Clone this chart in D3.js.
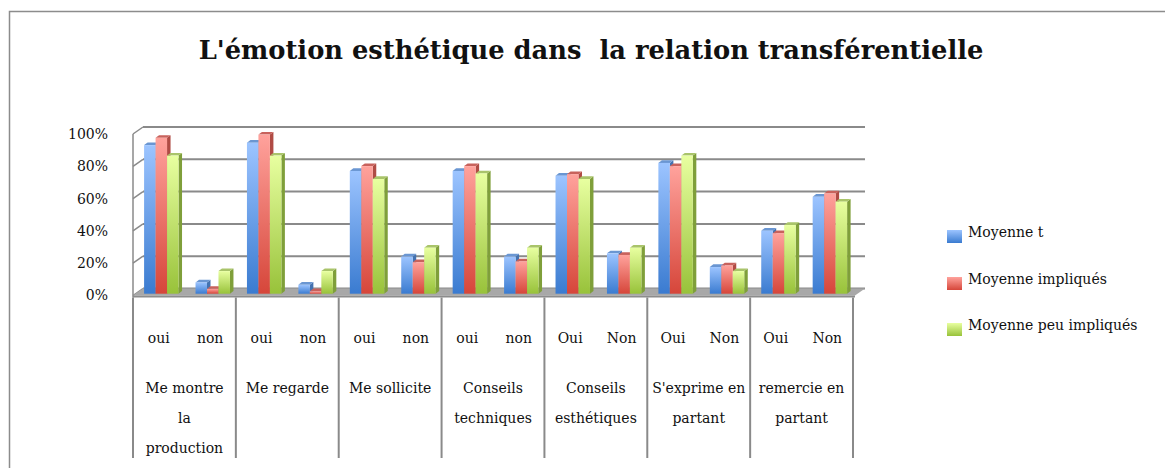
<!DOCTYPE html>
<html>
<head>
<meta charset="utf-8">
<script src="https://cdnjs.cloudflare.com/ajax/libs/d3/7.8.5/d3.min.js"></script>
<style>
  body { margin: 0; background: #fff; }
  text { font-family: "DejaVu Serif", "Liberation Serif", serif; fill: #111; }
</style>
</head>
<body>
<svg id="chart"></svg>
<script>
// data
var groups = [["Me montre", "la", "production"], ["Me regarde"], ["Me sollicite"],
  ["Conseils", "techniques"], ["Conseils", "esthétiques"], ["S'exprime en", "partant"], ["remercie en", "partant"]];
var answers = [["oui", "non"], ["oui", "non"], ["oui", "non"], ["oui", "non"],
  ["Oui", "Non"], ["Oui", "Non"], ["Oui", "Non"]];
var seriesNames = ["Moyenne t", "Moyenne impliqués", "Moyenne peu impliqués"];
var moyenneT = [0.92, 0.07, 0.935, 0.055, 0.76, 0.23, 0.76, 0.23, 0.73, 0.25, 0.81, 0.165, 0.39, 0.60];
var moyenneImpliques = [0.965, 0.03, 0.985, 0.015, 0.79, 0.195, 0.79, 0.20, 0.74, 0.24, 0.79, 0.175, 0.375, 0.62];
var moyennePeu = [0.855, 0.14, 0.855, 0.14, 0.71, 0.285, 0.745, 0.285, 0.71, 0.285, 0.855, 0.14, 0.425, 0.57];
var yTicks = [0, 0.2, 0.4, 0.6, 0.8, 1];

var width = 1165, height = 468;
var svg = d3.select("#chart").attr("width", width).attr("height", height);

var colors = [
  {top: "#9cc4ff", bottom: "#3a7bd0", cap: "#6a96d2", side: "#4472b0"},
  {top: "#ffa29c", bottom: "#d6463a", cap: "#c8625c", side: "#b04b44"},
  {top: "#e8ffa0", bottom: "#98c23a", cap: "#a9c46a", side: "#7f9f3a"}
];
var defs = svg.append("defs");
colors.forEach(function(c, i) {
  var g = defs.append("linearGradient").attr("id", "grad" + i)
    .attr("x1", 0).attr("y1", 0).attr("x2", 0).attr("y2", 1);
  g.append("stop").attr("offset", "0%").attr("stop-color", c.top);
  g.append("stop").attr("offset", "100%").attr("stop-color", c.bottom);
});

// outer frame
svg.append("path").attr("d", "M9.5," + height + "V11.5H" + width)
  .attr("fill", "none").attr("stroke", "#8c8c8c").attr("stroke-width", 1.5);

// title, fitted to the reference width
var title = svg.append("text").attr("x", 591).attr("y", 59)
  .attr("text-anchor", "middle").style("font-weight", "bold").style("font-size", "26px")
  .style("white-space", "pre")
  .text("L'émotion esthétique dans  la relation transférentielle");
var tl = title.node().getComputedTextLength();
title.style("font-size", (26 * 785 / tl) + "px");

// 3D geometry: front plane and depth offset
var x0 = 133, x1 = 853;
var depthX = 10, depthY = -7;
var yFront = d3.scaleLinear().domain([0, 1]).range([295.5, 134]);

var xGroup = d3.scaleBand().domain(d3.range(groups.length)).range([x0, x1]);
var xSub = d3.scaleBand().domain([0, 1]).range([0, xGroup.bandwidth()]);
var xSeries = d3.scaleBand().domain([0, 1, 2]).range([0, xSub.bandwidth()])
  .paddingInner(0).paddingOuter(0.74);

var grid = svg.append("g");
// back wall gridlines
yTicks.forEach(function(t) {
  var yb = yFront(t) + depthY;
  grid.append("line").attr("x1", x0 + depthX).attr("x2", x1 + depthX + 2)
    .attr("y1", yb).attr("y2", yb).attr("stroke", "#8a8a8a").attr("stroke-width", 2);
  // left wall diagonals
  grid.append("line").attr("x1", x0).attr("y1", yFront(t))
    .attr("x2", x0 + depthX).attr("y2", yb).attr("stroke", "#8a8a8a").attr("stroke-width", 1.5);
});
grid.append("line").attr("x1", x0).attr("x2", x0).attr("y1", yFront(1)).attr("y2", yFront(0) + 2)
  .attr("stroke", "#8a8a8a").attr("stroke-width", 1.5);

// floor
var fy = yFront(0);
grid.append("path")
  .attr("d", "M" + x0 + "," + fy + "L" + (x0 + depthX) + "," + (fy + depthY) +
    "L" + (x1 + depthX + 2) + "," + (fy + depthY) + "L" + (x1 + 2) + "," + fy + "Z")
  .attr("fill", "#a8a8a8");
grid.append("rect").attr("x", x0).attr("y", fy).attr("width", x1 - x0 + 2).attr("height", 2)
  .attr("fill", "#8c8c8c");

// y axis labels
var yAxis = d3.axisLeft(yFront).tickValues(yTicks).tickFormat(d3.format(".0%")).tickSize(0).tickPadding(0);
var ay = svg.append("g").attr("transform", "translate(108,0)").call(yAxis);
ay.select(".domain").remove();
ay.selectAll("text").style("font-family", "DejaVu Serif, serif").style("font-size", "14px").attr("fill", "#111");

// bars
var series = [moyenneT, moyenneImpliques, moyennePeu];
var barDx = 2.6, barDy = -1.8, capDx = 3.5, capDy = -2.7;
var bars = svg.append("g");
d3.range(groups.length * 2).forEach(function(k) {
  var gi = Math.floor(k / 2), si = k % 2;
  series.forEach(function(vals, s) {
    var v = vals[k];
    var bx = xGroup(gi) + xSub(si) + xSeries(s) + barDx;
    var bw = xSeries.bandwidth();
    var yb = yFront(0) + barDy, yt = yFront(v) + barDy;
    var c = colors[s];
    bars.append("path")
      .attr("d", "M" + (bx + bw) + "," + yb + "L" + (bx + bw + capDx) + "," + (yb + capDy) +
        "L" + (bx + bw + capDx) + "," + (yt + capDy) + "L" + (bx + bw) + "," + yt + "Z")
      .attr("fill", c.side);
    bars.append("path")
      .attr("d", "M" + bx + "," + yt + "L" + (bx + capDx) + "," + (yt + capDy) +
        "L" + (bx + bw + capDx) + "," + (yt + capDy) + "L" + (bx + bw) + "," + yt + "Z")
      .attr("fill", c.cap);
    bars.append("rect").attr("x", bx).attr("y", yt).attr("width", bw).attr("height", yb - yt)
      .attr("fill", "url(#grad" + s + ")");
  });
});

// category table below
var table = svg.append("g");
d3.range(groups.length + 1).forEach(function(i) {
  var xx = i < groups.length ? xGroup(i) : x1;
  table.append("line").attr("x1", xx).attr("x2", xx).attr("y1", fy + 2).attr("y2", 458)
    .attr("stroke", "#8a8a8a").attr("stroke-width", 2);
});
groups.forEach(function(lines, gi) {
  answers[gi].forEach(function(a, si) {
    table.append("text").attr("x", xGroup(gi) + xSub(si) + xSub.bandwidth() / 2).attr("y", 343)
      .attr("text-anchor", "middle").style("font-size", "14px").text(a);
  });
  lines.forEach(function(l, li) {
    table.append("text").attr("x", xGroup(gi) + xGroup.bandwidth() / 2).attr("y", 393 + li * 30)
      .attr("text-anchor", "middle").style("font-size", "14px").text(l);
  });
});

// legend
var legendY = [230, 277, 323];
var legend = svg.append("g");
seriesNames.forEach(function(n, i) {
  legend.append("rect").attr("x", 947).attr("y", legendY[i]).attr("width", 15).attr("height", 13)
    .attr("fill", "url(#grad" + i + ")");
  legend.append("text").attr("x", 968).attr("y", legendY[i] + 7).style("font-size", "14px").text(n);
});
</script>
</body>
</html>
